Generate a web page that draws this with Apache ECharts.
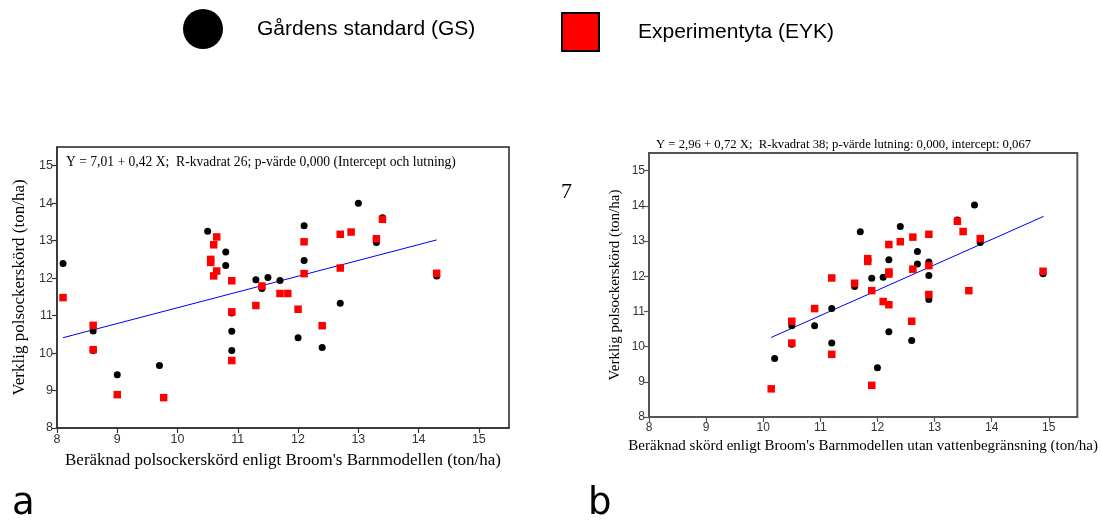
<!DOCTYPE html>
<html><head><meta charset="utf-8">
<script src="https://cdn.jsdelivr.net/npm/echarts@6/dist/echarts.min.js"></script>
<style>html,body{margin:0;padding:0;background:#fff}#c{width:1101px;height:524px}</style>
</head><body><div id="c"></div>
<script>
// ---- data ----
var nameGS = 'Gårdens standard (GS)';
var nameEYK = 'Experimentyta (EYK)';
var ticks = [8, 9, 10, 11, 12, 13, 14, 15];
// Chart a: x = Broom's Barnmodellen, y = verklig skörd
var gsA = [[8.1,12.39],[8.6,10.59],[8.6,10.07],[9.0,9.42],[9.7,9.67],[10.9,10.58],[10.9,10.07],[10.9,11.07],[10.5,13.25],[10.8,12.7],[10.8,12.34],[11.3,11.96],[11.5,12.02],[11.7,11.94],[11.4,11.72],[13.0,14.0],[12.1,13.4],[12.1,12.47],[13.3,12.95],[13.4,13.61],[14.3,12.06],[12.7,11.33],[12.0,10.41],[12.4,10.15]];
var eykA = [[8.1,11.48],[8.6,10.74],[8.6,10.09],[9.0,8.89],[9.77,8.81],[10.9,9.8],[10.9,11.1],[10.9,11.93],[11.3,11.27],[11.4,11.79],[11.7,11.59],[11.83,11.59],[12.0,11.17],[12.4,10.73],[10.65,13.1],[10.6,12.89],[10.55,12.5],[10.55,12.42],[10.6,12.06],[10.65,12.19],[12.1,12.97],[12.7,13.17],[12.88,13.23],[12.7,12.27],[12.1,12.12],[13.3,13.05],[13.4,13.57],[14.3,12.13]];
var fitA = [[8.1,10.41],[14.3,13.02]];
// Chart b: x = Broom's Barnmodellen utan vattenbegränsning
var gsB = [[11.7,13.26],[12.4,13.41],[13.4,13.6],[13.7,14.02],[13.8,12.96],[12.7,12.7],[12.7,12.35],[12.2,12.47],[12.9,12.4],[12.9,12.02],[12.1,11.97],[11.9,11.94],[11.6,11.71],[14.9,12.07],[10.2,9.66],[10.5,10.59],[10.5,10.07],[10.9,10.59],[11.2,11.08],[11.2,10.1],[12.9,11.34],[12.2,10.42],[12.6,10.17],[12.0,9.4]];
var eykB = [[13.4,13.56],[13.5,13.27],[13.8,13.07],[12.9,13.19],[12.62,13.11],[12.4,12.98],[12.2,12.9],[12.9,12.3],[12.2,12.12],[12.2,12.06],[12.62,12.2],[11.83,12.5],[11.83,12.42],[11.6,11.8],[14.9,12.14],[11.2,11.95],[10.14,8.8],[10.5,10.72],[10.5,10.1],[10.9,11.08],[11.2,9.78],[11.9,11.59],[12.1,11.28],[12.2,11.19],[12.9,11.48],[13.6,11.59],[12.6,10.72],[11.9,8.9]];
var fitB = [[10.14,10.26],[14.91,13.7]];
var eqA = 'Y = 7,01 + 0,42 X;  R-kvadrat 26; p-värde 0,000 (Intercept och lutning)';
var eqB = 'Y = 2,96 + 0,72 X;  R-kvadrat 38; p-värde lutning: 0,000, intercept: 0,067';
var xTitleA = "Beräknad polsockerskörd enligt Broom's Barnmodellen (ton/ha)";
var xTitleB = "Beräknad skörd enligt Broom's Barnmodellen utan vattenbegränsning (ton/ha)";
var yTitle = 'Verklig polsockerskörd (ton/ha)';

var chart = echarts.init(document.getElementById('c'), null, {renderer: 'canvas'});
var serif = 'Liberation Serif, Times New Roman, serif';
var sans = 'Liberation Sans, Arial, sans-serif';

function mkX(idx, title, gap, col, fs, tfs) {
  return {
    type: 'value', gridIndex: idx, min: 8, max: 15.5, interval: 1,
    name: title, nameLocation: 'middle', nameGap: gap,
    nameTextStyle: {fontFamily: serif, fontSize: tfs, color: '#000'},
    axisLine: {show: true, lineStyle: {color: col, width: 1.5}},
    axisTick: {show: true, length: 5, lineStyle: {color: col, width: 1.2}, customValues: ticks},
    axisLabel: {fontFamily: sans, fontSize: fs, color: '#333', margin: 5, customValues: ticks},
    splitLine: {show: false}
  };
}
function mkY(idx, gap, col, fs, tfs) {
  return {
    type: 'value', gridIndex: idx, min: 8, max: 15.5, interval: 1,
    name: yTitle, nameLocation: 'middle', nameGap: gap, nameRotate: 90,
    nameTextStyle: {fontFamily: serif, fontSize: tfs, color: '#000'},
    axisLine: {show: true, lineStyle: {color: col, width: 1.5}},
    axisTick: {show: true, length: 5, lineStyle: {color: col, width: 1.2}, customValues: ticks},
    axisLabel: {fontFamily: sans, fontSize: fs, color: '#333', margin: 4, customValues: ticks},
    splitLine: {show: false}
  };
}

var option = {
  animation: false,
  backgroundColor: '#fff',
  legend: [
    {left: 183, top: 9, padding: 0, itemWidth: 40, itemHeight: 40, data: [nameGS], selectedMode: false,
     textStyle: {fontFamily: sans, fontSize: 21, color: '#000', padding: [0, 0, 0, 29]}},
    {left: 561, top: 12, padding: 0, itemWidth: 37, itemHeight: 38, data: [nameEYK], selectedMode: false,
     itemStyle: {borderColor: '#000', borderWidth: 2},
     textStyle: {fontFamily: sans, fontSize: 21, color: '#000', padding: [0, 0, 0, 34]}}
  ],
  grid: [
    {left: 57, top: 147, width: 452, height: 281, show: true, borderColor: '#222', borderWidth: 1.5, backgroundColor: 'transparent'},
    {left: 649, top: 153, width: 429, height: 264, show: true, borderColor: '#555', borderWidth: 2, backgroundColor: 'transparent'}
  ],
  xAxis: [mkX(0, xTitleA, 24, '#333', 12.5, 17), mkX(1, xTitleB, 22, '#555', 12, 15)],
  yAxis: [mkY(0, 29, '#333', 12.5, 17), mkY(1, 26, '#555', 12, 15)],
  series: [
    {name: nameGS, type: 'scatter', xAxisIndex: 0, yAxisIndex: 0, data: gsA, symbol: 'circle', symbolSize: 7, itemStyle: {color: '#000', opacity: 1}},
    {name: nameEYK, type: 'scatter', xAxisIndex: 0, yAxisIndex: 0, data: eykA, symbol: 'rect', symbolSize: 7.5, itemStyle: {color: '#ff0000', opacity: 1}},
    {type: 'line', xAxisIndex: 0, yAxisIndex: 0, data: fitA, symbol: 'none', lineStyle: {color: '#0000ff', width: 1}, z: 1},
    {name: nameGS, type: 'scatter', xAxisIndex: 1, yAxisIndex: 1, data: gsB, symbol: 'circle', symbolSize: 7, itemStyle: {color: '#000', opacity: 1}},
    {name: nameEYK, type: 'scatter', xAxisIndex: 1, yAxisIndex: 1, data: eykB, symbol: 'rect', symbolSize: 7.5, itemStyle: {color: '#ff0000', opacity: 1}},
    {type: 'line', xAxisIndex: 1, yAxisIndex: 1, data: fitB, symbol: 'none', lineStyle: {color: '#0000ff', width: 1}, z: 1}
  ],
  graphic: [
    {type: 'text', left: 66, top: 155, style: {text: eqA, font: '13.6px ' + serif, fill: '#000'}},
    {type: 'text', left: 656, top: 138, style: {text: eqB, font: '12.7px ' + serif, fill: '#000'}},
    {type: 'text', left: 561, top: 181, style: {text: '7', font: '22px ' + serif, fill: '#000'}},
    {type: 'text', left: 12, top: 486, style: {text: 'a', font: '37px DejaVu Sans, sans-serif', fill: '#000'}},
    {type: 'text', left: 588, top: 486, style: {text: 'b', font: '37px DejaVu Sans, sans-serif', fill: '#000'}}
  ]
};
chart.setOption(option);
</script>
</body></html>
